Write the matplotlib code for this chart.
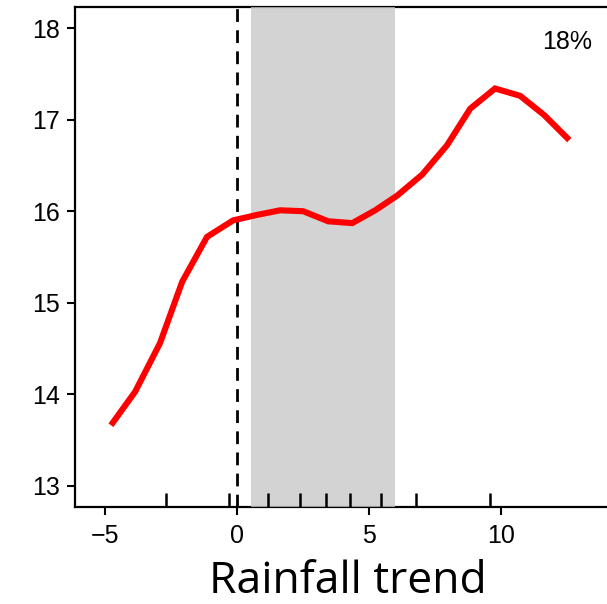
import matplotlib
matplotlib.use("Agg")
import matplotlib.pyplot as plt
import matplotlib.transforms as mtransforms

# Data
x_vals = [-4.71, -3.86, -2.92, -2.08, -1.14, -0.15, 0.76, 1.63, 2.50, 3.45,
          4.36, 5.23, 6.06, 7.01, 7.95, 8.83, 9.77, 10.72, 11.63, 12.50]
y_vals = [13.69, 14.03, 14.56, 15.23, 15.72, 15.90, 15.96, 16.01, 16.00, 15.89,
          15.87, 16.01, 16.17, 16.40, 16.72, 17.12, 17.34, 17.26, 17.05, 16.80]
rug_x = [-2.70, -0.30, 1.17, 2.39, 3.36, 4.28, 5.44, 6.78, 9.59]
span = [0.53, 5.98]
x_ticks = [-5, 0, 5, 10]
x_ticklabels = ["\u22125", "0", "5", "10"]
y_ticks = [13, 14, 15, 16, 17, 18]
annotation = "18%"
x_label = "Rainfall trend"

plt.rcParams['font.family'] = ['Liberation Sans', 'DejaVu Sans']

fig = plt.figure(figsize=(6.07, 6.04), dpi=100)
ax = fig.add_axes([75/607, 97/604, 1 - 75/607 + 0.01, 500/604])

ax.axvspan(span[0], span[1], color=(198/255, 198/255, 198/255), alpha=0.77,
           lw=0, zorder=2.6)
ax.axvline(0, color='black', ls=(0, (4.6, 3.0)), lw=2.0, zorder=2.7)
ax.plot(x_vals, y_vals, color='#ff0000', lw=4.4, zorder=3, solid_joinstyle='miter')

trans = mtransforms.blended_transform_factory(ax.transData, ax.transAxes)
ax.vlines(rug_x, 0, 0.029, transform=trans, color='black', lw=1.8, zorder=3,
          clip_on=False)

ax.set_xlim(-6.14, 14.24)
ax.set_ylim(12.77, 18.23)
ax.set_xticks(x_ticks)
ax.set_xticklabels(x_ticklabels)
ax.set_yticks(y_ticks)

for s in ['left', 'bottom', 'top']:
    ax.spines[s].set_linewidth(1.6)
ax.spines['right'].set_visible(False)
ax.tick_params(axis='both', direction='out', length=6, width=1.5,
               labelsize=18)
ax.tick_params(axis='y', pad=5)
ax.tick_params(axis='x', pad=6)

ax.text(13.45, 17.85, annotation, ha='right', va='center', fontsize=18, zorder=4)

ax.set_xlabel(x_label, fontsize=32, family=['Open Sans', 'DejaVu Sans'],
              labelpad=8.5)
ax.xaxis.label.set_x(0.5065)

fig.savefig("out.png", dpi=100)
